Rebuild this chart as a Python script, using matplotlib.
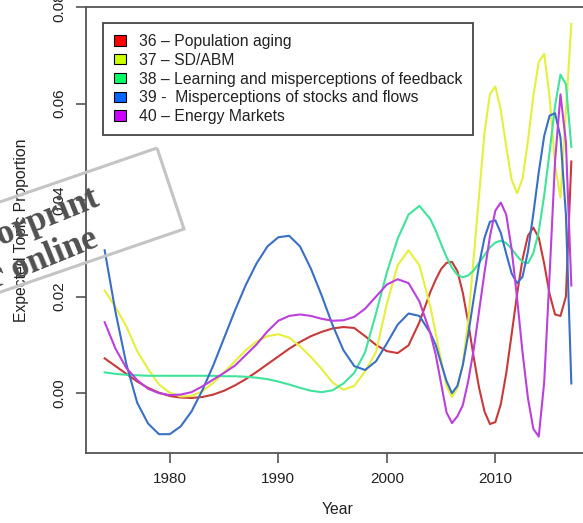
import matplotlib
matplotlib.use("Agg")
import matplotlib.pyplot as plt
from matplotlib.patches import Patch, Polygon

plt.rcParams['font.family'] = ['Liberation Sans', 'DejaVu Sans']

years = [1974, 1975, 1976, 1977, 1978, 1979, 1980, 1981, 1982, 1983, 1984,
         1985, 1986, 1987, 1988, 1989, 1990, 1991, 1992, 1993, 1994, 1995,
         1996, 1997, 1998, 1999, 2000, 2001, 2002, 2003, 2004, 2004.5, 2005,
         2005.5, 2006, 2006.5, 2007, 2007.5, 2008, 2008.5, 2009, 2009.5, 2010,
         2010.5, 2011, 2011.5, 2012, 2012.5, 2013, 2013.5, 2014, 2014.5, 2015,
         2015.5, 2016, 2016.5, 2017]

topic36 = [0.0072, 0.0056, 0.0040, 0.0024, 0.0011, 0.0001, -0.0006, -0.0009, -0.0010, -0.0008, -0.0003,
           0.0005, 0.0016, 0.0029, 0.0044, 0.0060, 0.0076, 0.0092, 0.0106, 0.0118, 0.0127, 0.0134,
           0.0137, 0.0135, 0.0118, 0.0100, 0.0087, 0.0083, 0.0099, 0.0147, 0.0209, 0.0235, 0.0257,
           0.0270, 0.0272, 0.0253, 0.0208, 0.0146, 0.0075, 0.0011, -0.0038, -0.0064, -0.0060,
           -0.0023, 0.0041, 0.0122, 0.0205, 0.0277, 0.0326, 0.0343, 0.0322, 0.0268, 0.0205,
           0.0163, 0.0160, 0.0200, 0.0480]

topic37 = [0.0213, 0.0178, 0.0138, 0.0087, 0.0050, 0.0018, 0.0001, -0.0007, -0.0006, 0.0004, 0.0021,
           0.0043, 0.0066, 0.0089, 0.0107, 0.0118, 0.0122, 0.0115, 0.0097, 0.0075, 0.0050, 0.0022,
           0.0007, 0.0015, 0.0045, 0.0085, 0.0185, 0.0265, 0.0296, 0.0265, 0.0180, 0.0125, 0.0068,
           0.0015, -0.0008, 0.0010, 0.0060, 0.0150, 0.0280, 0.0410, 0.0540, 0.0620, 0.0635,
           0.0587, 0.0511, 0.0442, 0.0414, 0.0444, 0.0522, 0.0616, 0.0686, 0.0703, 0.0613,
           0.0472, 0.0405, 0.0585, 0.0765]

topic38 = [0.0043, 0.0040, 0.0038, 0.0037, 0.0036, 0.0036, 0.0036, 0.0036, 0.0036, 0.0036, 0.0036,
           0.0035, 0.0035, 0.0034, 0.0032, 0.0029, 0.0024, 0.0018, 0.0011, 0.0005, 0.0002, 0.0006,
           0.0020, 0.0042, 0.0085, 0.0165, 0.0250, 0.0320, 0.0370, 0.0388, 0.0361, 0.0337, 0.0309,
           0.0282, 0.0260, 0.0245, 0.0240, 0.0244, 0.0254, 0.0270, 0.0286, 0.0302, 0.0312,
           0.0316, 0.0311, 0.0299, 0.0284, 0.0272, 0.0269, 0.0290, 0.0335, 0.0410, 0.0500,
           0.0595, 0.0660, 0.0640, 0.0510]

topic39 = [0.0296, 0.0168, 0.0060, -0.0020, -0.0063, -0.0085, -0.0085, -0.0069, -0.0038, 0.0006, 0.0057,
           0.0114, 0.0171, 0.0224, 0.0269, 0.0304, 0.0323, 0.0326, 0.0304, 0.0258, 0.0202, 0.0141,
           0.0089, 0.0056, 0.0048, 0.0066, 0.0103, 0.0142, 0.0165, 0.0160, 0.0125, 0.0100, 0.0062,
           0.0025, 0.0000, 0.0015, 0.0058, 0.0122, 0.0195, 0.0266, 0.0322, 0.0355, 0.0358,
           0.0332, 0.0289, 0.0248, 0.0228, 0.0241, 0.0293, 0.0372, 0.0458, 0.0533, 0.0575,
           0.0580, 0.0530, 0.0370, 0.0020]

topic40 = [0.0147, 0.0092, 0.0052, 0.0027, 0.0009, 0.0000, -0.0004, -0.0003, 0.0002, 0.0014, 0.0028,
           0.0042, 0.0057, 0.0079, 0.0101, 0.0128, 0.0150, 0.0160, 0.0163, 0.0160, 0.0154, 0.0150,
           0.0151, 0.0158, 0.0175, 0.0200, 0.0225, 0.0236, 0.0228, 0.0190, 0.0125, 0.0080, 0.0020,
           -0.0040, -0.0062, -0.0048, -0.0025, 0.0025, 0.0090, 0.0170, 0.0250, 0.0325, 0.0378,
           0.0395, 0.0370, 0.0298, 0.0197, 0.0085, -0.0010, -0.0074, -0.0090, 0.0023, 0.0246,
           0.0481, 0.0619, 0.0520, 0.0223]

labels = ["36 \u2013 Population aging", "37 \u2013 SD/ABM",
          "38 \u2013 Learning and misperceptions of feedback",
          "39 -  Misperceptions of stocks and flows", "40 \u2013 Energy Markets"]
legend_colors = ["#FF0000", "#CCFF00", "#00FF66", "#0066FF", "#CC00FF"]
line_colors = ["#c83a3a", "#e4f03c", "#3fe39a", "#3a6fc8", "#bb40dd"]
series = [topic36, topic37, topic38, topic39, topic40]

W, H = 583, 523
fig = plt.figure(figsize=(W / 100, H / 100), dpi=100)
# axes box in pixels: left 86, right 590 (beyond figure), top 7, bottom 453
ax = fig.add_axes([86 / W, 1 - 453 / H, 504 / W, 446 / H])

for vals, c in zip(series, line_colors):
    ax.plot(years, vals, color=c, lw=1.5)

ax.set_xlim(1972.28, 2018.72)
ax.set_ylim(-0.0124, 0.0798)
ax.set_xticks([1980, 1990, 2000, 2010])
ax.set_yticks([0.00, 0.02, 0.04, 0.06, 0.08])
ax.set_yticklabels(["0.00", "0.02", "0.04", "0.06", "0.08"], rotation=90, va='center')
ax.tick_params(axis='both', direction='out', length=7, width=1.2, color='#555555',
               labelsize=11, labelcolor='#222222', pad=7)
for s in ax.spines.values():
    s.set_color('#555555')
    s.set_linewidth(1.3)

ax.set_xlabel("Year", fontsize=11.3, color='#222222', labelpad=11)
ax.set_ylabel("Expected Topic Proportion", fontsize=11.3, color='#222222', labelpad=17)

handles = [Patch(facecolor=c, edgecolor='black', linewidth=0.8) for c in legend_colors]
leg = ax.legend(handles, labels, loc='upper left',
                bbox_to_anchor=((103 - 86) / 504, 1 - (23 - 7) / 446),
                borderaxespad=0, fontsize=11.3, frameon=True, fancybox=False,
                framealpha=1, edgecolor='#444444', handlelength=0.75,
                handleheight=0.62, handletextpad=0.85, labelspacing=0.24,
                borderpad=0.7)
leg.get_frame().set_linewidth(1.3)
for t in leg.get_texts():
    t.set_color('#222222')

# watermark box and text
def fp(x, y):
    return (x / W, 1 - y / H)

tr, br = (157, 148), (184, 229)
d = (-0.946, 0.325)
L = 420
tl = (tr[0] + L * d[0], tr[1] + L * d[1])
bl = (br[0] + L * d[0], br[1] + L * d[1])
poly = Polygon([fp(*tr), fp(*br), fp(*bl), fp(*tl)], closed=True, fill=False,
               edgecolor='#c4c4c4', linewidth=2.2, transform=fig.transFigure,
               zorder=20)
fig.patches.append(poly)
wm_kw = dict(fontsize=25, fontweight='bold', family=['Liberation Serif', 'DejaVu Serif'],
             color='#505050', rotation=22, rotation_mode='anchor', ha='right',
             va='baseline', transform=fig.transFigure, zorder=21)
fig.text(*fp(101, 205), "Not forprint", **wm_kw)
fig.text(*fp(100, 246), "or online", **wm_kw)

fig.savefig("out.png", dpi=100)
